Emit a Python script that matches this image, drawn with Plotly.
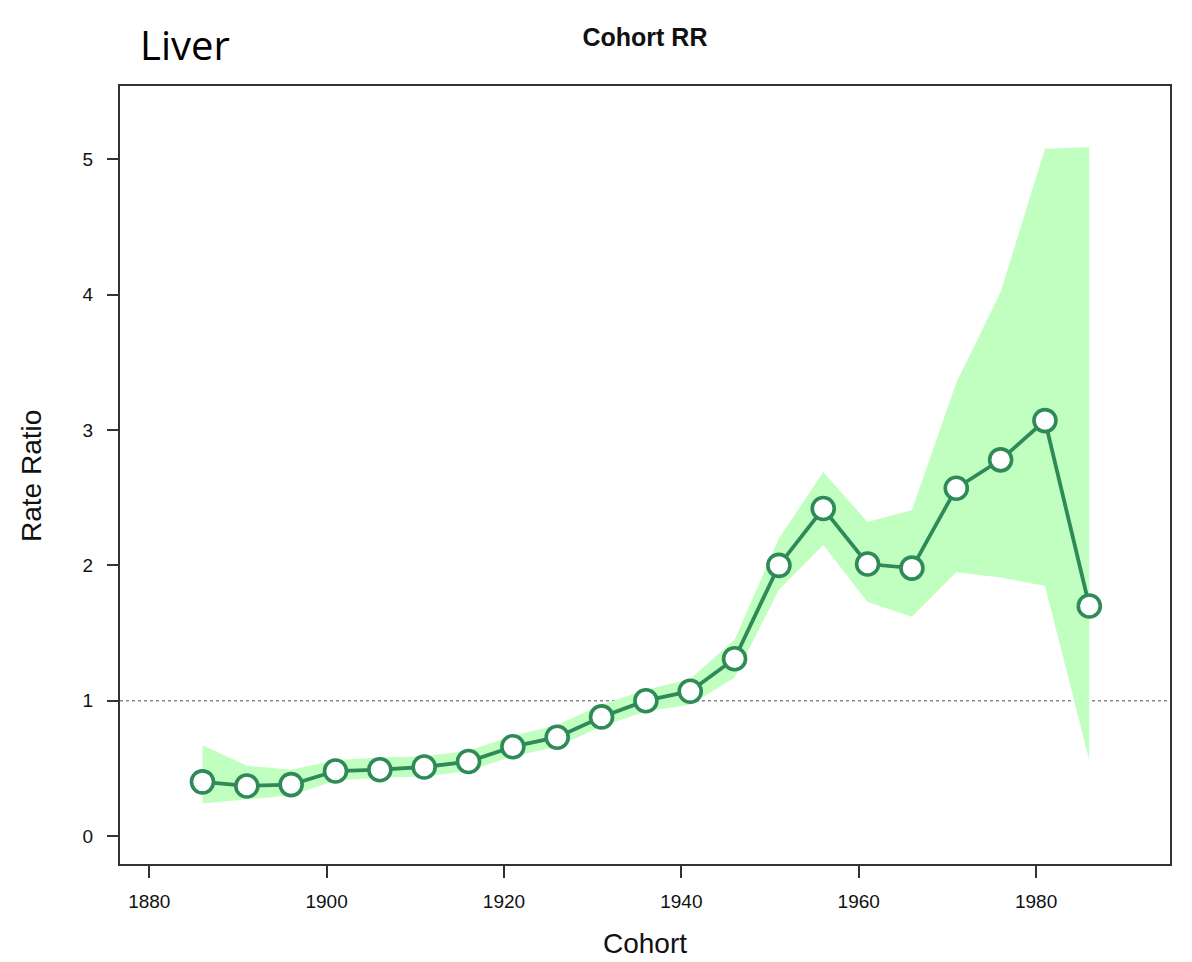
import plotly.graph_objects as go

cohort = [1886, 1891, 1896, 1901, 1906, 1911, 1916, 1921, 1926, 1931, 1936,
          1941, 1946, 1951, 1956, 1961, 1966, 1971, 1976, 1981, 1986]
rr = [0.40, 0.37, 0.38, 0.48, 0.49, 0.51, 0.55, 0.66, 0.73, 0.88, 1.00,
      1.07, 1.31, 2.00, 2.42, 2.01, 1.98, 2.57, 2.78, 3.07, 1.70]
upper = [0.67, 0.52, 0.49, 0.56, 0.58, 0.59, 0.63, 0.74, 0.82, 0.97, 1.08,
         1.16, 1.45, 2.20, 2.69, 2.32, 2.41, 3.35, 4.02, 5.08, 5.09]
lower = [0.24, 0.27, 0.30, 0.41, 0.43, 0.44, 0.48, 0.59, 0.66, 0.81, 0.92,
         0.97, 1.17, 1.82, 2.15, 1.73, 1.62, 1.95, 1.91, 1.85, 0.56]
x_ticks = [1880, 1900, 1920, 1940, 1960, 1980]
y_ticks = [0, 1, 2, 3, 4, 5]

GREEN = "#2E8B57"
BAND = "#C1FFC1"
AXIS = "#333333"
FONT = "Liberation Sans, Arial, sans-serif"

fig = go.Figure()
fig.add_trace(go.Scatter(x=cohort, y=upper, mode="lines", line=dict(width=0),
                         hoverinfo="skip", showlegend=False))
fig.add_trace(go.Scatter(x=cohort, y=lower, mode="lines", line=dict(width=0),
                         fill="tonexty", fillcolor=BAND, hoverinfo="skip",
                         showlegend=False))
fig.add_shape(type="line", xref="paper", yref="y", x0=0, x1=1, y0=1, y1=1,
              line=dict(color="#888888", width=1.5, dash="dot"), layer="below")
fig.add_trace(go.Scatter(x=cohort, y=rr, mode="lines+markers",
                         line=dict(color=GREEN, width=3.8),
                         marker=dict(size=22, color="white",
                                     line=dict(color=GREEN, width=3.6)),
                         showlegend=False))

fig.update_layout(
    width=1192, height=962,
    margin=dict(l=112, r=30, t=78, b=106),
    paper_bgcolor="white", plot_bgcolor="white",
    font=dict(family=FONT, color="#111111"),
    title=dict(text="<b>Cohort RR</b>", x=637/1192, xanchor="center",
               y=1 - 29/962, yanchor="middle",
               font=dict(size=25, family=FONT)),
    xaxis=dict(range=[1876.7, 1995.1], tickvals=x_ticks, ticks="outside",
               ticklen=12, tickwidth=1.5, tickcolor=AXIS, showgrid=False,
               zeroline=False, showline=True, linecolor=AXIS, linewidth=2,
               mirror=True, tickfont=dict(size=19), ticklabelstandoff=7),
    yaxis=dict(range=[-0.207, 5.543], tickvals=y_ticks, ticks="outside",
               ticklen=11, tickwidth=1.5, tickcolor=AXIS, showgrid=False,
               zeroline=False, showline=True, linecolor=AXIS, linewidth=2,
               mirror=True, tickfont=dict(size=19), ticklabelstandoff=10),
)
fig.add_annotation(text="Cohort", xref="paper", yref="paper",
                   x=0.5, y=(864 - 944) / 778, xanchor="center", yanchor="middle",
                   showarrow=False, font=dict(size=28, family=FONT, color="#111111"))
fig.add_annotation(text="Rate Ratio", xref="paper", yref="paper", textangle=-90,
                   x=(32 - 120) / 1050, y=(864 - 476) / 778, xanchor="center",
                   yanchor="middle", showarrow=False,
                   font=dict(size=28, family=FONT, color="#111111"))
fig.add_annotation(text="Liver", xref="paper", yref="paper",
                   x=(138 - 120) / 1050, y=(864 - 44) / 778, xanchor="left",
                   yanchor="middle", showarrow=False,
                   font=dict(size=40, family="Open Sans, sans-serif", color="black"))
fig.write_html("out.html")
